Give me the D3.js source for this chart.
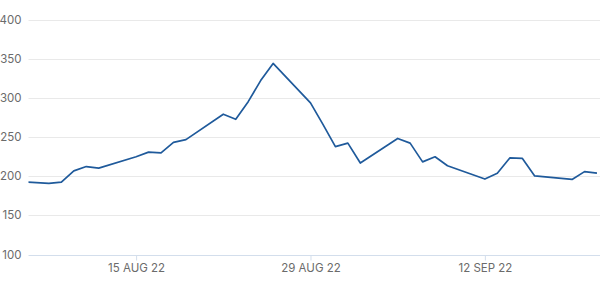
<!DOCTYPE html>
<html>
<head>
<meta charset="utf-8">
<script src="https://cdn.jsdelivr.net/npm/d3@7"></script>
<style>
  body { margin: 0; background: #fff; }
  svg { display: block; font-family: Inter, "Noto Sans", sans-serif; }
</style>
</head>
<body>
<div id="container"></div>
<script>
// daily closes
const dates = [
    '2022-08-05', '2022-08-08', '2022-08-09', '2022-08-10', '2022-08-11', '2022-08-12',
    '2022-08-15', '2022-08-16', '2022-08-17', '2022-08-18', '2022-08-19',
    '2022-08-22', '2022-08-23', '2022-08-24', '2022-08-25', '2022-08-26',
    '2022-08-29', '2022-08-30', '2022-08-31', '2022-09-01', '2022-09-02',
    '2022-09-05', '2022-09-06', '2022-09-07', '2022-09-08', '2022-09-09',
    '2022-09-12', '2022-09-13', '2022-09-14', '2022-09-15', '2022-09-16',
    '2022-09-19', '2022-09-20', '2022-09-21'
];
const values = [
    194, 191, 192.5, 207, 212.5, 210.5,
    225, 231, 230, 243.5, 247,
    279.5, 273, 295.5, 322.5, 344.5,
    294, 266.5, 238, 242.5, 217,
    248.5, 242.5, 218.5, 225, 213.5,
    196.5, 204, 223.5, 223, 200.5,
    196, 206, 204
];
const yTicks = [100, 150, 200, 250, 300, 350, 400];
const xTicks = ['2022-08-15', '2022-08-29', '2022-09-12'];

const width = 600;
const height = 283;

const parse = d3.utcParse('%Y-%m-%d');
const data = dates.map((d, i) => ({ date: parse(d), value: values[i] }));

const x = d3.scaleUtc()
    .domain([new Date(Date.UTC(2022, 7, 6, 8, 40)), new Date(Date.UTC(2022, 8, 21, 5, 50))])
    .range([28.5, 600]);

const y = d3.scaleLinear()
    .domain([100, 400])
    .range([254.5, 20]);

const svg = d3.select('#container')
    .append('svg')
    .attr('width', width)
    .attr('height', height);

svg.append('defs').append('clipPath')
    .attr('id', 'plot-clip')
    .append('rect')
    .attr('x', x.range()[0])
    .attr('y', 0)
    .attr('width', x.range()[1] - x.range()[0])
    .attr('height', height);

// horizontal grid
svg.append('g')
    .selectAll('line')
    .data(yTicks)
    .join('line')
    .attr('x1', x.range()[0])
    .attr('x2', x.range()[1])
    .attr('y1', d => Math.round(y(d)) + 0.5)
    .attr('y2', d => Math.round(y(d)) + 0.5)
    .attr('stroke', d => d === 100 ? '#d3deec' : '#e9e9e9')
    .attr('stroke-width', 1);

// y labels
svg.append('g')
    .selectAll('text')
    .data(yTicks)
    .join('text')
    .attr('x', 21.5)
    .attr('y', d => y(d))
    .attr('dy', '0.35em')
    .attr('text-anchor', 'end')
    .attr('fill', '#6b6b6b')
    .attr('font-size', 11.5)
    .text(d => d);

// x axis
const fmt = d3.utcFormat('%d %b %y');
const xAxis = svg.append('g')
    .attr('transform', `translate(0,${Math.round(y(100)) + 0.5})`)
    .call(d3.axisBottom(x)
        .tickValues(xTicks.map(parse))
        .tickSize(5)
        .tickFormat(d => fmt(d).toUpperCase()));

xAxis.select('.domain').remove();
xAxis.selectAll('.tick line').attr('stroke', '#d3deec');
xAxis.selectAll('.tick text')
    .attr('y', 8)
    .attr('fill', '#6b6b6b')
    .attr('font-size', 11.5)
    .attr('font-family', 'Inter, "Noto Sans", sans-serif');

const line = d3.line()
    .x(d => x(d.date))
    .y(d => y(d.value));

svg.append('path')
    .datum(data)
    .attr('clip-path', 'url(#plot-clip)')
    .attr('fill', 'none')
    .attr('stroke', '#1f5a9b')
    .attr('stroke-width', 1.7)
    .attr('stroke-linejoin', 'round')
    .attr('d', line);
</script>
</body>
</html>
